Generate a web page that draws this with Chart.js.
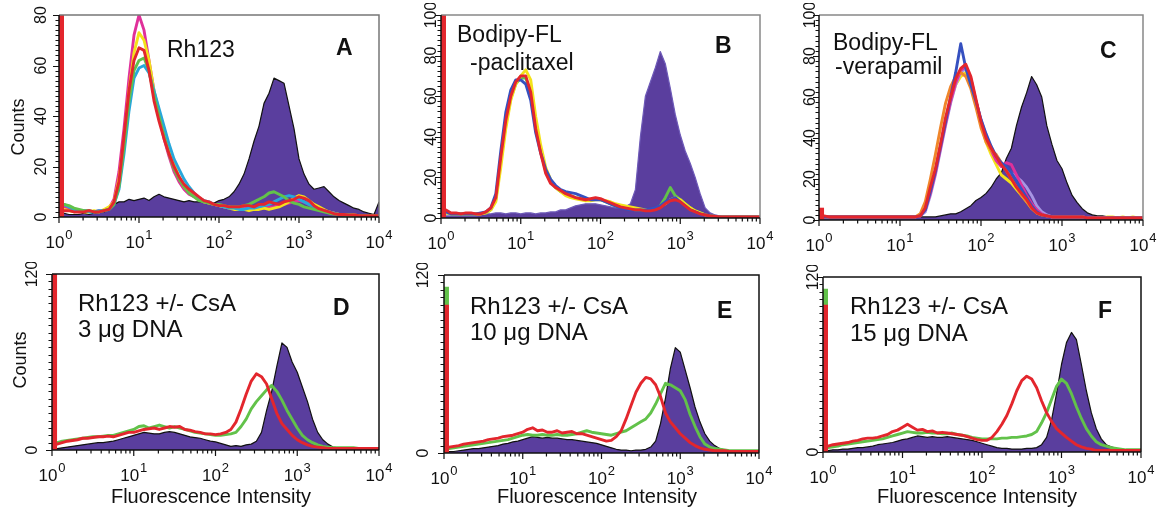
<!DOCTYPE html>
<html>
<head>
<meta charset="utf-8">
<script src="https://cdn.jsdelivr.net/npm/chart.js@4.4.1/dist/chart.umd.min.js"></script>
<style>
  body { margin: 0; background: #fff; width: 1172px; height: 508px; position: relative; overflow: hidden;
         font-family: "Liberation Sans", Arial, Helvetica, sans-serif; color: #111; }
  canvas { position: absolute; }
  .lbl { position: absolute; line-height: 1; white-space: nowrap; }
  .rot { position: absolute; line-height: 1; white-space: nowrap; transform: translate(-50%, -50%) rotate(-90deg); }
</style>
</head>
<body>
<script>
// fluorescence channels (16 per decade, 10^0 .. 10^4)
const channels = [1,1.155,1.334,1.54,1.778,2.054,2.371,2.738,3.162,3.652,4.217,4.87,5.623,6.494,7.499,8.66,
  10,11.55,13.34,15.4,17.78,20.54,23.71,27.38,31.62,36.52,42.17,48.7,56.23,64.94,74.99,86.6,
  100,115.5,133.4,154,177.8,205.4,237.1,273.8,316.2,365.2,421.7,487,562.3,649.4,749.9,866,
  1000,1155,1334,1540,1778,2054,2371,2738,3162,3652,4217,4870,5623,6494,7499,8660,10000];

const decades = [1, 10, 100, 1000, 10000];
const decadeExp = ['0', '1', '2', '3', '4'];
const yTicks80 = [0, 20, 40, 60, 80];
const yTicks100 = [0, 20, 40, 60, 80, 100];
const yTicks120 = [0, 120];

// spike in the first channel, panels A..F
const redSpike = [130, 130, 6, 130, 100, 101];
const greenSpike = [0, 0, 0, 0, 112, 112];

// A - Rh123
const purpleA = [1.5,1.5,1,1,1,1.5,1,1.5,2,2, 3,5,6,6,7,6.5,7,7.5,6.5,8, 9,8,7.5,7,6.5,6,6.5,6,6,6,
  5.5,5.5,6.5,7,8,10,13,17,23,30, 36,45,49,55,54,53,44,35,23,17, 13,11,11.5,12,10,8,6.5,5.5,4.5,3.5, 3,2,1.5,1,6];
const redA = [3,2.5,2.5,2,2,2,2.5,2,2,2.5, 3,6,14,32,50,62,67,66,58,46, 38,31,25,20,16,13,11,9.5,8,6.5,
  6,5,4.5,4.5,4,4,4,4.5,4.5,4, 5,5,6,5.5,5,6,6.5,7,8,7.5, 6.5,4.5,3.3,2.6,2,1.3,1,1,0.8,0.8, 0.5,0.5,0.5,0.5,0.5];
const magentaA = [3,4,3,2.5,2,2.5,2.5,2,2.5,2.5, 3.5,7,18,35,55,72,80,74,62,50, 40,31,24,18,14,11,9,8,7,6,
  5.5,5,4.5,4,4,3.5,3.5,3.5,3,3, 3.5,3.5,4,4,4.5,5,5.5,6,6.5,6, 5,4,3,2.5,2,1.5,1,1,0.8,0.5, 0.5,0.5,0.5,0.5,0.5];
const yellowA = [3.5,3,2.5,2,2.5,2,2,2.5,2,3, 4,6,15,30,50,65,73,70,62,50, 42,34,27,21,16,12,10,8.5,7,6,
  5.5,5,4.5,4,3.5,3,3,3,2.5,3, 3,3.5,3,3.5,4,5,6,7.5,8.5,8, 6.5,5,4,3,2,1.5,1,1,0.8,0.8, 0.5,0.5,0.5,0.5,0.5];
const cyanA = [5,5,4,3,2.5,2.5,2,2,2.5,2.5, 3,5,11,25,42,55,59,60,57,50, 43,36,29,23,19,15,12,9.5,7.5,6.5,
  6,5,4.5,4,3.5,3.5,3,3,3.5,3.5, 4,4.5,5,6,7,8,8.5,8,7,6, 5,4,3,2.5,2,1.5,1,1,0.8,0.5, 0.5,0.5,0.5,0.5,0.5];
const greenA = [5.5,5,4.5,3.5,3,2.5,2.5,2,2,2.5, 3,5,12,28,46,58,62,63,58,48, 40,32,25,19,15,12,9.5,8,6.5,6,
  5.5,5,5,4.5,4,4,4,4.5,5,6, 7,8,9.5,10,9,8,6.5,5.5,5,4, 3.5,3,2.5,2,1.5,1.2,1,0.8,0.8,0.5, 0.5,0.5,0.5,0.5,0.5];

// B - Bodipy-FL-paclitaxel
const purpleB = [1,1,1,1,1,1,1,1,1.5,2, 2,2.5,2.5,2,2.5,2.5,2,2.5,2.5,2, 2.5,2.5,3,3,4,4,5,6,6.5,7,
  7,7,6.5,6,5.5,5,5,5.5,7,14, 40,60,67,74,82,76,64,51,41,33, 27,20,12,5,2.5,1.5,1,0.5,0.5,0, 0,0,0,0,0];
const redB = [2.5,4,2.5,2.5,2,2.5,2.5,2,2,3, 5,10,30,48,60,67,70,70,62,44, 32,22,17,15,13.5,12,11,10,9.5,9,
  9.5,10,9.5,8.5,7.5,6.5,5.5,5,4.5,4, 4,3.5,3.5,4,5,7,8.5,9,8,6, 4,3,2,1.5,1,0.8,0.5,0.5,0.5,0.5, 0.5,0.5,0.5,0.5,0.5];
const blueB = [2,3,2,2,2,2,2,2,2.5,3, 5,12,33,52,63,68,68,66,58,42, 32,24,19,16,14,13,12.5,12,11,10,
  9,9,9,8,7,6,5,4.5,4,4, 4,4,4.5,5,6,8,9,10,8,6, 4,3,2,1.5,1,0.8,0.5,0.5,0.5,0.5, 0.5,0.5,0.5,0.5,0.5];
const yellowB = [2,2.5,2,2,2,2,2,2,2,2.5, 4,8,25,44,58,66,70,73,68,50, 36,25,19,15,13,11,10,9.5,9,8.5,
  8.5,9,9,8.5,8,7,6.5,6,5.5,5, 4.5,4,4,4.5,5.5,7,9,10,9,7, 5,3.5,2.5,1.5,1,0.8,0.5,0.5,0.5,0.5, 0.5,0.5,0.5,0.5,0.5];
const greenB = [2,2.5,2,2,2,2,2,2,2,2.5, 4,9,28,46,59,66,69,69,62,46, 33,23,18,15,13,12,11,10,9.5,9,
  9,9.5,9,8,7,6,5.5,5,4.5,4, 4,4,4,4.5,6,10,15,11,9,7, 5,3.5,2.5,1.5,1,0.8,0.5,0.5,0.5,0.5, 0.5,0.5,0.5,0.5,0.5];

// C - Bodipy-FL-verapamil
const purpleC = [1.5,1.5,1.5,1.5,1.5,1.5,1.5,1.5,1.5,1.5, 1.5,1.5,1.5,1.5,1.5,1.5,1.5,1.5,1.5,1.5,
  1.5,1.5,1.5,1.5,2,2.5,3,3,4,5.5, 7,9.5,11,13,16,20,23,30,35,46, 55,62,70,66,60,46,37,29,25,18,
  12,8.5,5.5,3.5,2.5,2,2,1.5,1.5,1.5, 1.5,1,1,1,1];
const redC = [2,2,1.5,1.5,1.5,1.5,1.5,1.5,1.5,1.5, 1.5,1.5,1.5,1.5,1.5,1.5,1.5,1.5,1.5,1.5,
  2,6,16,25,37,50,60,69,74,76, 70,59,48,40,35,31,27,24,20,16, 13,10,6,3.5,2.5,2,1.5,1.5,1.5,1.5,
  1.5,1.5,1.5,1,1,1,1,1,1,1, 1,1,1,1,1];
const blueC = [1.5,1.5,1.5,1.5,1.5,1.5,1.5,1.5,1.5,1.5, 1.5,1.5,1.5,1.5,1.5,1.5,1.5,1.5,1.5,1.5,
  2,5,14,24,36,48,60,72,86,74, 66,58,49,42,36,31,28,26,23,19, 15,11,7,4,2.5,2,1.5,1.5,1.5,1.5,
  1.5,1.5,1.5,1,1,1,1,1,1,1, 1,1,1,1,1];
const orangeC = [2,1.5,1.5,1.5,1.5,1.5,1.5,1.5,1.5,1.5, 1.5,1.5,1.5,1.5,1.5,1.5,1.5,1.5,1.5,1.5,
  3,9,20,32,45,57,65,70,72,70, 64,55,45,38,34,32,28,24,20,16, 12,9,5.5,3.5,2.5,2,1.5,1.5,1.5,1.5,
  1.5,1.5,1.5,1,1,1,1,1,1,1, 1,1,1,1,1];
const magentaC = [1.5,1.5,1.5,1.5,1.5,1.5,1.5,1.5,1.5,1.5, 1.5,1.5,1.5,1.5,1.5,1.5,1.5,1.5,1.5,1.5,
  2,5,13,23,35,47,58,67,73,75, 69,58,48,40,34,29,26,28,27,22, 17,12,8,5,3,2,1.5,1.5,1.5,1.5,
  1.5,1.5,1.5,1,1,1,1,1,1,1, 1,1,1,1,1];
const lavenderC = [1.5,1.5,1.5,1.5,1.5,1.5,1.5,1.5,1.5,1.5, 1.5,1.5,1.5,1.5,1.5,1.5,1.5,1.5,1.5,1.5,
  2,4,12,22,34,46,57,66,72,74, 68,58,49,41,35,30,27,25,23,21, 19,16,12,7,4,2.5,1.5,1.5,1.5,1.5,
  1.5,1.5,1.5,1,1,1,1,1,1,1, 1,1,1,1,1];
const yellowC = [1.5,1.5,1.5,1.5,1.5,1.5,1.5,1.5,1.5,1.5, 1.5,1.5,1.5,1.5,1.5,1.5,1.5,1.5,1.5,1.5,
  2,5,14,24,36,48,58,66,70,72, 66,57,47,38,32,27,22,20,18,15, 12,9,6,3.5,2.5,2,1.5,1.5,1.5,1.5,
  1.5,1.5,1.5,1,1,1,1,1.5,1.5,1, 1.5,1,1.5,1,1];

// D - Rh123 +/- CsA, 3 ug DNA
const purpleD = [0.5,1,1.5,2,2.5,3,3.5,4,4.5,5, 5,5.5,6,7,8,9,10,11,12,11.5, 11,11,12,12.5,12,11,10,9,8.5,8,
  7,6,5.5,4.5,3.5,2.5,3,2.5,3.5,4, 6,12,27,40,57,73,70,60,53,43, 33,21,12,7,4,2,1.5,1,1,1, 1,1.5,1,0.5,0.5];
const redD = [3,4,5,6,6.5,7,8,8,8.5,9, 9,9.5,9,10,11,12,12,13,14,14.5, 15,14,15,16,15.5,16,14,13.5,12.5,12,
  11,11,10.5,11,12,14,19,28,38,47, 52,50,45,35,25,18,14,10,7,5, 3.5,2.5,2,1.5,1,1,1,1,1,1, 1,1,1,1,1];
const greenD = [5,5,6,6.5,7,7.5,8,8.5,9,9, 9.5,10,10,11,12,13,14,16,16.5,15, 16,17,16,15,16,15,14,13,12,11.5,
  11,10.5,10,10,10.5,11,12,16,21,28, 33,37,41,44,40,34,27,21,15,10, 7,5,3.5,2.5,2,1.5,1.5,1.5,1.5,1.5, 1,1,1,1,1];

// E - Rh123 +/- CsA, 10 ug DNA
const purpleE = [1,1,1,1.5,2,2.5,3,3,3.5,4, 4.5,5,6,6.5,7.5,8,9,10,11,10.5, 10,10.5,10,10,9.5,9,9,8.5,8,7.5,
  7,6.5,5.5,4.5,3.5,2.5,2,2,1.5,2, 2,2.5,4,8,20,37,57,71,68,56, 44,31,21,13,8,5,3,2,1.5,1, 1,1,1,1,1];
const redE = [3,4,4.5,5,6,6.5,7,7.5,8,9, 9.5,10,11,11.5,12,13,14,16,17,15, 15.5,14,14,15,13.5,14,14.5,13,13,12,
  11,10,9,8,8.5,11,15,23,32,41, 47,51,50,46,38,27,21,17,13,10, 7,5,3.5,2.5,2,1.5,1.5,1.5,1,1, 1,1,1,1,1];
const greenE = [3,3,3.5,4,4.5,5,5.5,6,6.5,7, 7.5,8,8.5,9,10,11,12,12.5,12,12, 12.5,12,12,12.5,12,12,12.5,13,14,15,
  14,13.5,13,12.5,12,13,14,15,17,19, 21,23,27,33,40,47,46,44,42,36, 26,18,11,6,4,3,2.5,2,1.5,1.5, 1.5,1.5,1.5,1.5,1.5];

// F - Rh123 +/- CsA, 15 ug DNA
const purpleF = [1,1,1.5,1.5,2,2,2.5,3,3,3.5, 4,5,5.5,6,6.5,7.5,8.5,9,10,11, 10.5,10,10.5,10,10,10.5,10,9.5,9,8.5,
  8,7,6,5,4,3,2.5,2.5,2,2, 2,2.5,2.5,3,5,10,22,40,60,75, 82,77,60,42,27,16,9,5,3.5,2.5, 2,1.5,1,1,1];
const redF = [3,4,5,5.5,6,6.5,7.5,8,9,9.5, 9.5,10,11,12,14,15,17,19,17,15, 15.5,14,14.5,13,13.5,13,12.5,12,11.5,10.5,
  9.5,8.5,8,8,10,14,19,25,33,42, 49,52,50,44,35,27,21,16,13,10, 7.5,5,3.5,2.5,2,1,1,1,1,1, 1,1,1,1,1];
const greenF = [3,3,3.5,4,5,5.5,6,6.5,7,7.5, 8,8.5,9,10,11,12,13,14,13.5,13, 13,13.5,13,13,12.5,12.5,13,12,11.5,11,
  10,9.5,9,9,9,9,9.5,9.5,10,10, 10.5,11,12,14,20,27,36,45,50,47, 40,31,23,16,11,7,5,4,3,2.5, 2,1.5,1.5,1.5,1.5];

const RED = '#e3262d', GREEN = '#62c24a', YELLOW = '#f3e21a', CYAN = '#27a7db', BLUE = '#3550c0',
      MAGENTA = '#e0309a', ORANGE = '#f0862a', LAVENDER = '#a796e3', PURPLE = '#5a3e9e';

const PAD = {left: 50, top: 12, right: 14, bottom: 40};

const panels = [
  {box: [59, 15, 379, 217], yMax: 80, yTicks: yTicks80, yMinor: 2, yLabDx: -17, frame: '#777',
   fill: purpleA, edge: '#111',
   lines: [[redA, RED], [greenA, GREEN], [cyanA, CYAN], [yellowA, YELLOW], [magentaA, MAGENTA]]},
  {box: [441, 15, 760, 218], yMax: 100, yTicks: yTicks100, yMinor: 2.5, yLabDx: -9, frame: '#888',
   fill: purpleB, edge: '#6e5ab8',
   lines: [[redB, RED], [blueB, BLUE], [yellowB, YELLOW], [greenB, GREEN]]},
  {box: [819, 15, 1143, 220], yMax: 100, yTicks: yTicks100, yMinor: 2.5, yLabDx: -8, frame: '#888',
   fill: purpleC, edge: '#111',
   lines: [[redC, RED], [blueC, BLUE], [orangeC, ORANGE], [magentaC, MAGENTA], [lavenderC, LAVENDER], [yellowC, YELLOW]]},
  {box: [52, 274, 379, 450], yMax: 120, yTicks: yTicks120, yMinor: 5, yLabDx: -19, frame: '#111',
   fill: purpleD, edge: '#111', lines: [[redD, RED], [greenD, GREEN]]},
  {box: [444, 275, 759, 453], yMax: 120, yTicks: yTicks120, yMinor: 5, yLabDx: -20, frame: '#111',
   fill: purpleE, edge: '#111', lines: [[redE, RED], [greenE, GREEN]]},
  {box: [823, 277, 1141, 452], yMax: 120, yTicks: yTicks120, yMinor: 5, yLabDx: -9, frame: '#111',
   fill: purpleF, edge: '#111', lines: [[redF, RED], [greenF, GREEN]]}
];

const FONT = '"Liberation Sans", Arial, sans-serif';

const frameTicks = {
  id: 'frameTicks',
  afterDatasetsDraw(chart, args, o) {
    const {ctx, chartArea: a} = chart;
    const x = chart.scales.x, y = chart.scales.y;
    ctx.save();
    ctx.lineWidth = 1.5;
    ctx.strokeStyle = o.frame;
    ctx.beginPath();
    ctx.moveTo(a.left, a.top); ctx.lineTo(a.right, a.top); ctx.lineTo(a.right, a.bottom);
    ctx.stroke();
    ctx.strokeStyle = '#111';
    ctx.beginPath();
    ctx.moveTo(a.left, a.top); ctx.lineTo(a.left, a.bottom); ctx.lineTo(a.right, a.bottom);
    ctx.stroke();

    ctx.lineWidth = 1.2;
    ctx.beginPath();
    decades.forEach((d, k) => {
      const px = x.getPixelForValue(d);
      ctx.moveTo(px, a.bottom); ctx.lineTo(px, a.bottom + 6);
      if (k < decades.length - 1) {
        for (let m = 2; m < 10; m++) {
          const p = x.getPixelForValue(d * m);
          ctx.moveTo(p, a.bottom); ctx.lineTo(p, a.bottom + 3.5);
        }
      }
    });
    for (let v = 0; v <= o.yMax + 0.001; v += o.yMinor) {
      const py = Math.round(y.getPixelForValue(v)) + 0.5;
      const len = o.yTicks.includes(v) ? 6 : 3.5;
      ctx.moveTo(a.left, py); ctx.lineTo(a.left - len, py);
    }
    ctx.stroke();

    ctx.fillStyle = '#111';
    ctx.textBaseline = 'alphabetic';
    ctx.textAlign = 'left';
    decades.forEach((d, k) => {
      const px = x.getPixelForValue(d);
      ctx.font = '17px ' + FONT;
      const w1 = ctx.measureText('10').width;
      ctx.font = '13px ' + FONT;
      const w2 = ctx.measureText(decadeExp[k]).width;
      const x0 = px - (w1 + w2 + 1) / 2;
      ctx.font = '17px ' + FONT;
      ctx.fillText('10', x0, a.bottom + 31);
      ctx.font = '13px ' + FONT;
      ctx.fillText(decadeExp[k], x0 + w1 + 1, a.bottom + 22);
    });

    ctx.font = '16px ' + FONT;
    ctx.textAlign = 'center';
    ctx.textBaseline = 'middle';
    o.yTicks.forEach(v => {
      ctx.save();
      ctx.translate(a.left + o.yLabDx, y.getPixelForValue(v));
      ctx.rotate(-Math.PI / 2);
      ctx.fillText(String(v), 0, 0);
      ctx.restore();
    });
    ctx.restore();
  }
};

function points(vals) {
  return channels.map((c, i) => ({x: c, y: vals[i]}));
}

const spikeX = Math.sqrt(channels[0] * channels[1]);

panels.forEach((p, idx) => {
  const [l, t, r, b] = p.box;
  const cv = document.createElement('canvas');
  cv.width = (r - l) + PAD.left + PAD.right;
  cv.height = (b - t) + PAD.top + PAD.bottom;
  cv.style.left = (l - PAD.left) + 'px';
  cv.style.top = (t - PAD.top) + 'px';
  document.body.appendChild(cv);

  const datasets = [];
  datasets.push({data: [{x: spikeX, y: 0}, {x: spikeX, y: redSpike[idx]}], borderColor: RED, borderWidth: 5,
                 fill: false, clip: {left: 0, top: 0, right: 0, bottom: 0}});
  if (greenSpike[idx] > 0) {
    datasets.push({data: [{x: spikeX, y: 0}, {x: spikeX, y: greenSpike[idx]}], borderColor: GREEN, borderWidth: 5,
                   fill: false, clip: {left: 0, top: 0, right: 0, bottom: 0}});
  }
  p.lines.forEach(([vals, col]) => {
    datasets.push({data: points(vals), borderColor: col, borderWidth: 2.9, fill: false});
  });
  datasets.push({data: points(p.fill), borderColor: p.edge, borderWidth: 1.2, backgroundColor: PURPLE, fill: 'origin'});

  new Chart(cv, {
    type: 'line',
    data: {datasets},
    options: {
      responsive: false,
      animation: false,
      devicePixelRatio: 1,
      events: [],
      layout: {padding: PAD},
      elements: {point: {radius: 0}, line: {tension: 0, borderJoinStyle: 'round'}},
      plugins: {
        legend: {display: false},
        tooltip: {enabled: false},
        frameTicks: {frame: p.frame, yMax: p.yMax, yTicks: p.yTicks, yMinor: p.yMinor, yLabDx: p.yLabDx}
      },
      scales: {
        x: {type: 'logarithmic', min: 1, max: 10000, display: false},
        y: {type: 'linear', min: 0, max: p.yMax, display: false}
      }
    },
    plugins: [frameTicks]
  });
});

// panel annotations
function place(text, x, base, size, bold) {
  const d = document.createElement('div');
  d.className = 'lbl';
  d.textContent = text;
  d.style.left = x + 'px';
  d.style.top = (base - 0.8465 * size) + 'px';
  d.style.fontSize = size + 'px';
  if (bold) d.style.fontWeight = 'bold';
  document.body.appendChild(d);
}
function rotated(text, cx, cy, size) {
  const d = document.createElement('div');
  d.className = 'rot';
  d.textContent = text;
  d.style.left = cx + 'px';
  d.style.top = cy + 'px';
  d.style.fontSize = size + 'px';
  document.body.appendChild(d);
}
function centered(text, cx, base, size) {
  const d = document.createElement('div');
  d.className = 'lbl';
  d.textContent = text;
  d.style.left = (cx - 150) + 'px';
  d.style.width = '300px';
  d.style.textAlign = 'center';
  d.style.top = (base - 0.8465 * size) + 'px';
  d.style.fontSize = size + 'px';
  document.body.appendChild(d);
}

place('Rh123', 167, 57, 23);
place('A', 336, 55, 23, true);
place('Bodipy-FL', 457, 42, 23);
place('-paclitaxel', 470, 70, 23);
place('B', 715, 53, 23, true);
place('Bodipy-FL', 833, 50, 23);
place('-verapamil', 835, 74, 23);
place('C', 1100, 58, 23, true);
place('Rh123 +/- CsA', 78, 311, 24);
place('3 \u03bcg DNA', 78, 337, 24);
place('D', 333, 315, 23, true);
place('Rh123 +/- CsA', 470, 314, 24);
place('10 \u03bcg DNA', 470, 340, 24);
place('E', 717, 318, 23, true);
place('Rh123 +/- CsA', 850, 314, 24);
place('15 \u03bcg DNA', 850, 341, 24);
place('F', 1098, 318, 23, true);

rotated('Counts', 18, 127, 18);
rotated('Counts', 20, 360, 18);
centered('Fluorescence Intensity', 211, 503, 20);
centered('Fluorescence Intensity', 597, 503, 20);
centered('Fluorescence Intensity', 977, 503, 20);
</script>
</body>
</html>
